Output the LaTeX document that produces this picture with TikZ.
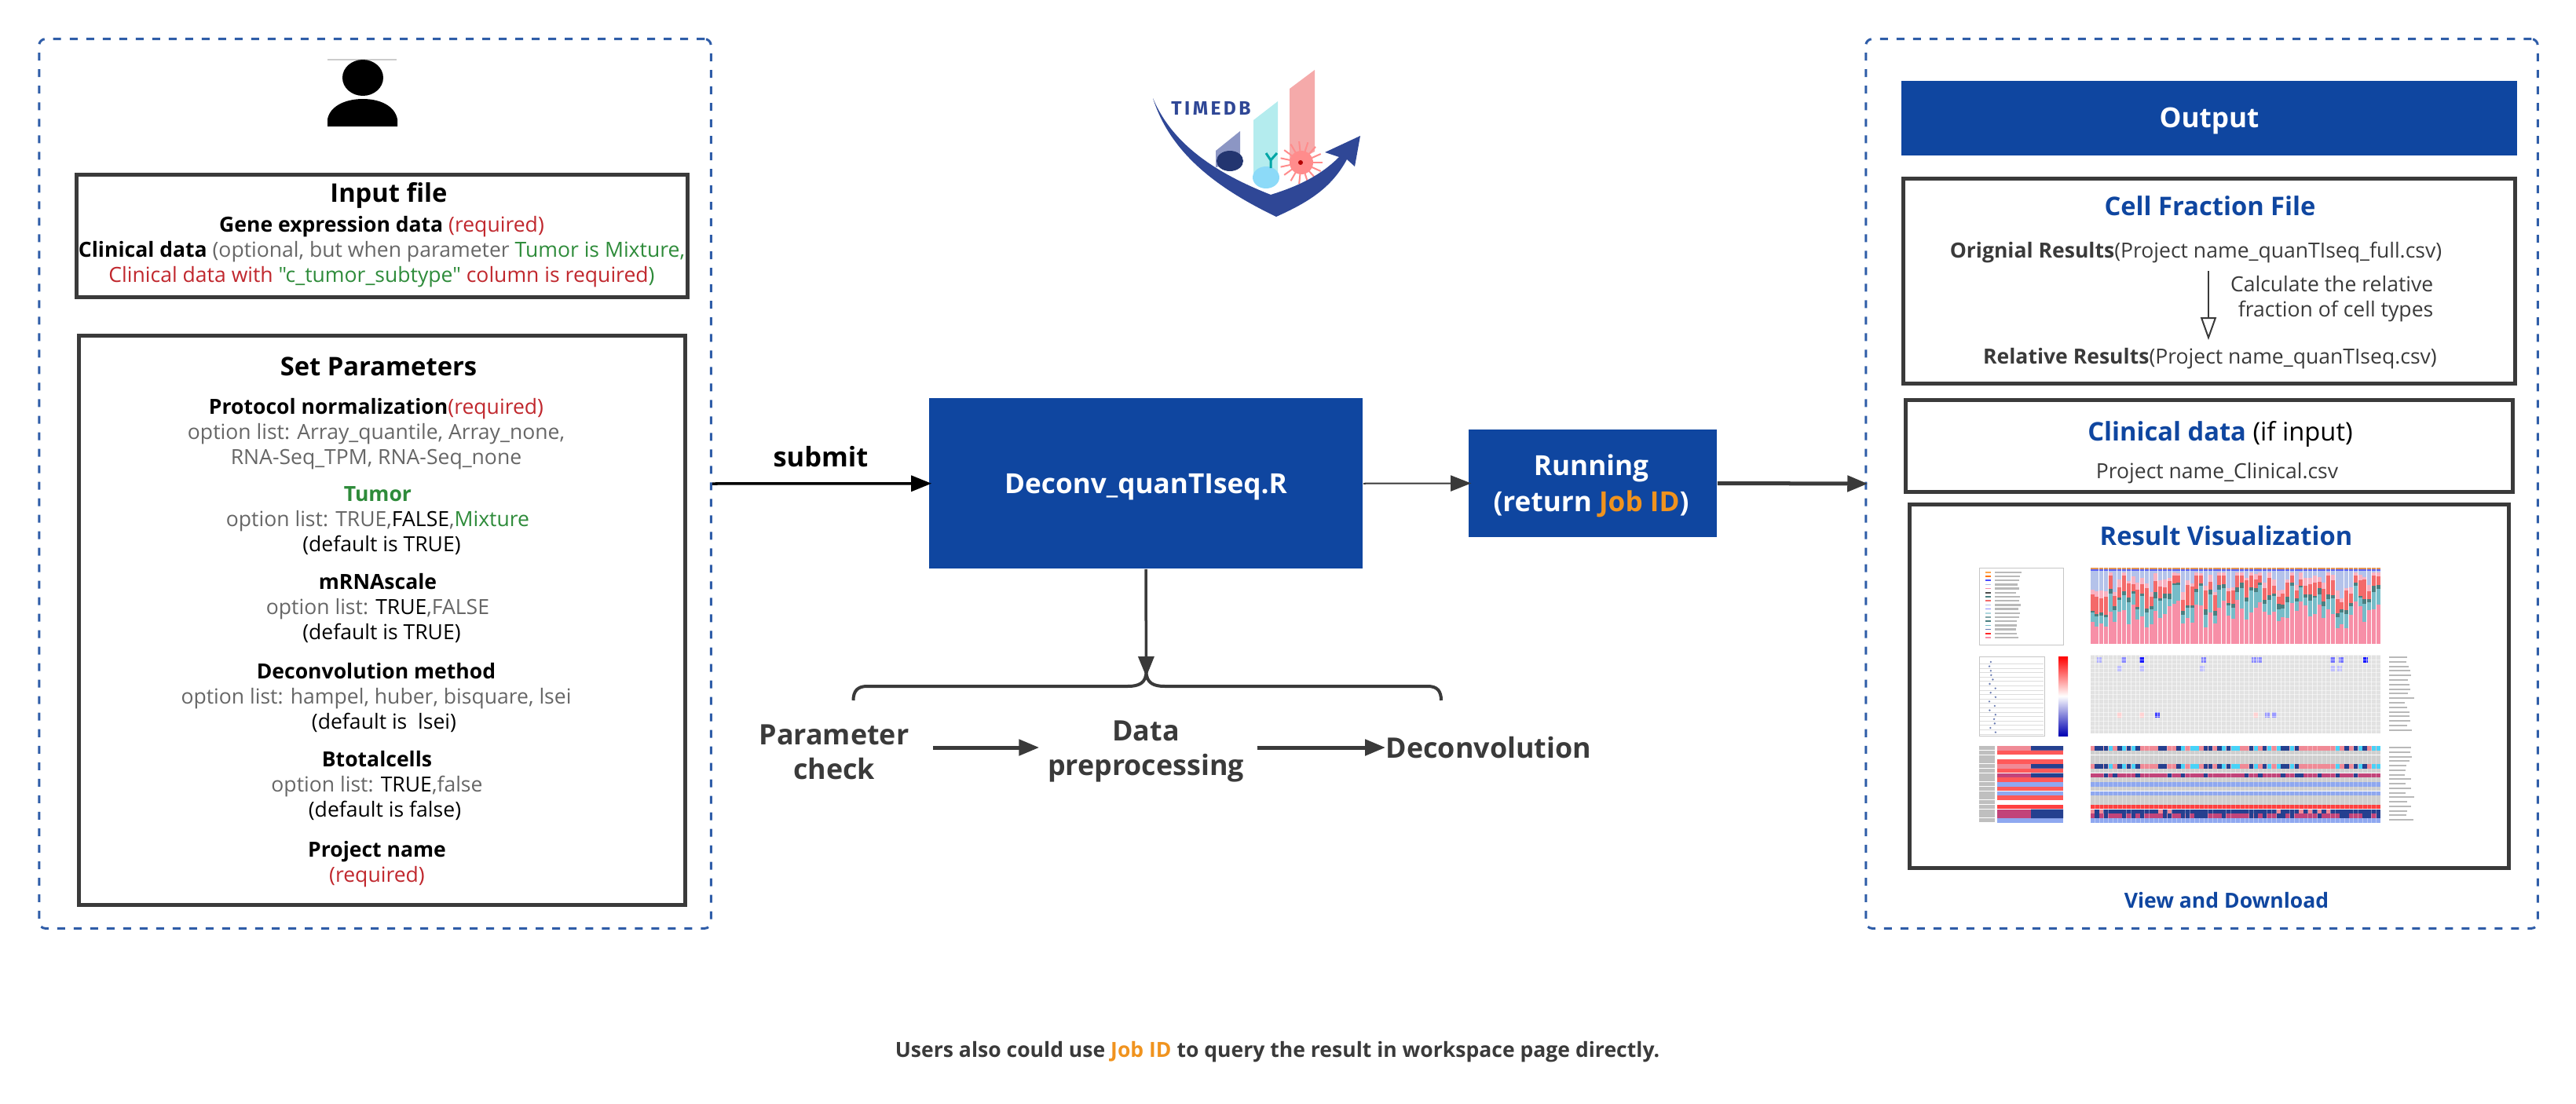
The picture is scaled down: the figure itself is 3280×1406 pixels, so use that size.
\documentclass[tikz,border=0pt]{standalone}
\usepackage{fontspec}
\setmainfont[Ligatures=TeXOff]{Open Sans}
\newfontfamily\logofont[LetterSpace=14]{Fira Sans}
\usetikzlibrary{arrows.meta}
\definecolor{mainblue}{HTML}{0F46A0}
\definecolor{framedash}{HTML}{2F5DA8}
\definecolor{boxdark}{HTML}{3A3A3A}
\definecolor{reqred}{HTML}{C0272D}
\definecolor{optgreen}{HTML}{2E8B3A}
\definecolor{optgray}{HTML}{666666}
\definecolor{jobamber}{HTML}{F0931E}
\definecolor{logoblue}{HTML}{2F4796}
\definecolor{logobar}{HTML}{8C96C4}
\definecolor{logocyan}{HTML}{B4ECEE}
\definecolor{logopink}{HTML}{F5AAAA}
\definecolor{barpink}{HTML}{F78FA7}
\definecolor{barteal}{HTML}{76BCC8}
\definecolor{bardark}{HTML}{4A7F80}
\definecolor{barsalmon}{HTML}{F46A6A}
\definecolor{barlight}{HTML}{B4C2EA}
\definecolor{hmblue}{HTML}{8FA8F0}
\definecolor{hmnavy}{HTML}{25408F}
\definecolor{hmrose}{HTML}{F08A96}
\definecolor{hmmag}{HTML}{C2447A}
\definecolor{hmgray}{HTML}{CFCFCF}
\newcommand{\req}[1]{\textcolor{reqred}{#1}}
\newcommand{\opt}[1]{\textcolor{optgray}{#1}}
\newcommand{\grn}[1]{\textcolor{optgreen}{#1}}
\tikzset{
  framebox/.style={draw=framedash, line width=0.03cm, dashed, dash pattern=on 0.1cm off 0.11cm, rounded corners=0.08cm, inner sep=0},
  panelbox/.style={draw=boxdark, line width=0.05cm, inner sep=0},
  bluebox/.style={fill=mainblue, inner sep=0},
  bluetxt/.style={text=white, inner sep=0, align=center, font=\fontsize{10}{13.2}\selectfont\bfseries},
  titletxt/.style={inner sep=0, font=\fontsize{9.3}{11}\selectfont\bfseries},
  bodytxt/.style={inner sep=0, align=center, font=\fontsize{7.55}{9.1}\selectfont},
  steptxt/.style={inner sep=0, align=center, text=boxdark, font=\fontsize{10.2}{12.7}\selectfont\bfseries},
  flowarrow/.style={draw=boxdark, line width=0.035cm, shorten >=-0.04cm, -{Triangle[length=0.26cm,width=0.2cm]}},
  hintarrow/.style={draw=boxdark, line width=0.02cm, -{Triangle[open,length=0.29cm,width=0.2cm]}},
}
\begin{document}
\begin{tikzpicture}[x=0.01cm, y=-0.01cm, every node/.style={align=center}]
    \useasboundingbox (0,0) rectangle (3280,1406);

    % left frame
    \node[framebox, minimum width=8.55cm, minimum height=11.32cm] (leftframe) at (477.5,616) {};
    \draw[gray!40, line width=0.02cm] (417,76) -- (505,76);
    \fill (462,99) ellipse (26 and 23);
    \fill (417,161) -- (417,152) .. controls (420,135) and (440,126) .. (462,126) .. controls (484,126) and (503,135) .. (506,152) -- (506,161) -- cycle;

    % input file
    \node[panelbox, minimum width=7.78cm, minimum height=1.56cm] (inputbox) at (486.5,300.5) {};
    \node[titletxt] (inputtitle) at (495,249) {Input file};
    \node[bodytxt] (inputlist) at (486,321) {\textbf{Gene expression data} \req{(required)}\\
      \textbf{Clinical data} \opt{(optional, but when parameter} \grn{Tumor is Mixture,}\\
      \req{Clinical data with} \grn{"c\_tumor\_subtype"} \req{column is required}\grn{)}};

    % set parameters
    \node[panelbox, minimum width=7.72cm, minimum height=7.25cm] (parambox) at (486.5,790) {};
    \node[titletxt] (paramtitle) at (482,467) {Set Parameters};
    \node[bodytxt] (protocol) at (479,552.5) {\textbf{Protocol normalization}\req{(required)}\\
      \opt{option list: Array\_quantile, Array\_none,}\\
      \opt{RNA-Seq\_TPM, RNA-Seq\_none}};
    \node[bodytxt] (tumor) at (481,663) {\grn{\textbf{Tumor}}\\
      \opt{option list: TRUE,}FALSE\opt{,}\grn{Mixture}\\
      \hspace*{0.1cm}(default is TRUE)};
    \node[bodytxt] (mrna) at (481,775) {\textbf{mRNAscale}\\
      \opt{option list:} TRUE\opt{,FALSE}\\
      \hspace*{0.1cm}(default is TRUE)};
    \node[bodytxt] (method) at (479,888.5) {\textbf{Deconvolution method}\\
      \opt{option list: hampel, huber, bisquare, lsei}\\
      \hspace*{0.2cm}(default is \ lsei)};
    \node[bodytxt] (btotal) at (480,1001) {\textbf{Btotalcells}\\
      \opt{option list:} TRUE\opt{,false}\\
      \hspace*{0.2cm}(default is false)};
    \node[bodytxt] (project) at (480,1101) {\textbf{Project name}\\ \req{(required)}};

    % logo
    \fill[logobar] (1548,192) -- (1579,167) -- (1579,207) -- (1548,213) -- cycle;
    \fill[logocyan] (1596,153) -- (1627,129) -- (1627,220) -- (1596,223) -- cycle;
    \fill[logopink] (1642,113) -- (1674,89) -- (1674,193) -- (1642,210) -- cycle;
    \fill[logoblue!75!black] (1566,205) ellipse (17 and 13);
    \fill[cyan!45!white] (1612,226) ellipse (17 and 14);
    \draw[teal!70!cyan, line width=0.03cm] (1618,214) -- (1618,204) -- (1612,195) (1618,204) -- (1626,195);
    \foreach \ang in {0,24,...,336}
        \draw[red!45!white, line width=0.02cm] (1657,207) -- ++(\ang:27);
    \fill[red!45!white] (1657,207) circle (15);
    \fill[red!70!black] (1656,207) circle (3);
    \fill[logoblue] (1468,125) .. controls (1490,195) and (1550,240) .. (1625,276)
        .. controls (1665,258) and (1695,240) .. (1715,203) -- (1725,212) -- (1732,173) -- (1687,194) -- (1705,200)
        .. controls (1680,225) and (1650,238) .. (1618,248) .. controls (1560,225) and (1495,190) .. (1468,125) -- cycle;
    \node[inner sep=0, text=logoblue, font=\logofont\fontsize{7}{8}\selectfont\bfseries] (logoname) at (1542,138) {TIMEDB};

    % middle flow
    \node[bluebox, minimum width=5.52cm, minimum height=2.165cm] (deconv) at (1459,615.75) {};
    \node[bluetxt] (deconvname) at (1459,620) {Deconv\_quanTIseq.R};
    \node[bluebox, minimum width=3.16cm, minimum height=1.37cm] (running) at (2028,615.5) {};
    \node[bluetxt] (runningname) at (2026,619) {Running\\ (return \textcolor{jobamber}{Job ID})};
    \node[inner sep=0, font=\fontsize{9.8}{12}\selectfont\bfseries] (submit) at (1045,582) {submit};
    \draw[flowarrow, draw=black] (leftframe.east) -- (deconv.west);
    \draw[flowarrow, line width=0.02cm] (deconv.east) -- (running.west);

    % brace and steps
    \coordinate (bracepeak) at (1459.5,862);
    \draw[flowarrow, shorten >=0cm] (deconv.south) -- (bracepeak);
    \draw[boxdark, line width=0.04cm] (1086.5,892) .. controls (1086.5,880) and (1092,874) .. (1104,874) -- (1436,874)
        .. controls (1450,874) and (1459.5,870) .. (1459.5,855) .. controls (1459.5,870) and (1469,874) .. (1483,874)
        -- (1818,874) .. controls (1830,874) and (1835,880) .. (1835,892);
    \node[steptxt] (paramcheck) at (1062,958) {Parameter\\ check};
    \node[steptxt] (dataprep) at (1459,957) {Data\\ preprocessing};
    \node[steptxt] (deconvstep) at (1895.5,952) {Deconvolution};
    \draw[flowarrow, line width=0.05cm, shorten <=0.3cm, shorten >=0.1cm] (paramcheck.east |- deconvstep.west) -- (dataprep.west |- deconvstep.west);
    \draw[flowarrow, line width=0.05cm, shorten <=0.16cm, shorten >=0cm] (dataprep.east |- deconvstep.west) -- (deconvstep.west);

    % right frame
    \node[framebox, minimum width=8.55cm, minimum height=11.32cm] (rightframe) at (2803.5,616) {};
    \draw[flowarrow, line width=0.05cm] (running.east) -- (rightframe.west);
    \node[bluebox, minimum width=7.84cm, minimum height=0.95cm] (output) at (2813,150.5) {};
    \node[bluetxt] (outputname) at (2813,154) {Output};

    % cell fraction
    \node[panelbox, minimum width=7.78cm, minimum height=2.6cm] (fractionbox) at (2813,358) {};
    \node[titletxt, text=mainblue] (fractiontitle) at (2814,262.5) {Cell Fraction File};
    \node[bodytxt, text=boxdark] (original) at (2796,322) {\textbf{Orignial Results}(Project name\_quanTIseq\_full.csv)};
    \node[bodytxt, text=boxdark, align=right, anchor=east] (calc) at (3099,381) {Calculate the relative\\ fraction of cell types};
    \node[bodytxt, text=boxdark] (relative) at (2814,457) {\textbf{Relative Results}(Project name\_quanTIseq.csv)};
    \draw[hintarrow, shorten <=0.09cm, shorten >=0.1cm] (original.south -| 2812,0) -- (relative.north -| 2812,0);

    % clinical data
    \node[panelbox, minimum width=7.72cm, minimum height=1.16cm] (clinicalbox) at (2813,568) {};
    \node[titletxt, font=\fontsize{9.3}{11}\selectfont] (clinicaltitle) at (2827,553) {\textcolor{mainblue}{\textbf{Clinical data}} (if input)};
    \node[bodytxt, text=boxdark] (clinicalfile) at (2823,603) {Project name\_Clinical.csv};

    % result visualization
    \node[panelbox, minimum width=7.62cm, minimum height=4.62cm] (resultbox) at (2813,874) {};
    \node[titletxt, text=mainblue] (resulttitle) at (2834.5,682.5) {Result Visualization};
    \node[inner sep=0, text=mainblue, font=\fontsize{7.55}{9}\selectfont\bfseries] (download) at (2835,1147) {View and Download};

    % thumbnail: legend and stacked bars
    \pgfmathsetseed{11}
    \draw[gray!45, line width=0.01cm] (2520,723) rectangle (2627,821);
    \foreach \i/\c in {0/orange!70,1/orange!90!red,2/blue!70,3/barlight,4/barpink,5/black!70,6/bardark,7/barsalmon,8/barlight,9/blue!45,10/barteal!60,11/bardark!70,12/bardark,13/barteal,14/hmnavy!70,15/red!85,16/barpink}{
        \fill[\c] (2528,{728+5.2*\i}) rectangle (2535,{729.6+5.2*\i});
        \fill[gray!55] (2540,{727.6+5.2*\i}) rectangle ({2566+8*rnd},{730+5.2*\i});
    }
    \foreach \i in {0,...,63}{
        \pgfmathsetmacro\bx{2661.5+5.78*\i}
        \pgfmathsetmacro\ha{820-(20+36*rnd)}
        \pgfmathsetmacro\hb{max(\ha-(9+20*rnd),745)}
        \pgfmathsetmacro\hc{max(\hb-(2+6*rnd),742)}
        \pgfmathsetmacro\hd{max(\hc-(8+22*rnd),733)}
        \pgfmathsetmacro\he{max(\hd-(3+8*rnd),729)}
        \fill[orange!65!barlight] (\bx,723) rectangle (\bx+5,820);
        \fill[blue!50!barlight] (\bx,725) rectangle (\bx+5,820);
        \fill[barlight] (\bx,727) rectangle (\bx+5,820);
        \fill[barpink!70!white] (\bx,\he) rectangle (\bx+5,820);
        \fill[barsalmon] (\bx,\hd) rectangle (\bx+5,820);
        \fill[bardark] (\bx,\hc) rectangle (\bx+5,820);
        \fill[barteal] (\bx,\hb) rectangle (\bx+5,820);
        \fill[barpink] (\bx,\ha) rectangle (\bx+5,820);
    }

    % thumbnail: bubbles, colour bar and heatmap
    \draw[gray!45, line width=0.01cm] (2520,836) rectangle (2603,937);
    \foreach \i in {0,...,16}{
        \fill[hmnavy!70] ({2533+8*rnd},{843+5.6*\i}) circle (1.3);
        \fill[hmgray!70] (2521,{845+5.6*\i}) rectangle (2602,{845.3+5.6*\i});
    }
    \shade[top color=red, bottom color=blue!70!black, middle color=white] (2621,836) rectangle (2633,937);
    \fill[hmgray!60] (2661.5,834) rectangle (3031,934);
    \foreach \i in {0,...,16}
        \fill[gray!55] (3042,{836+5.8*\i}) rectangle ({3062+12*rnd},{838+5.8*\i});
    \foreach \cx/\cy/\c in {2670/837/blue!30,2701/837/blue!45,2724/837/blue!90,2803/837/blue!50,2867/837/blue!45,2874/837/blue!45,2967/837/blue!55,2978/837/blue!55,3009/837/blue!90,2696/848/blue!25,2724/848/blue!25,2801/848/blue!25,2967/848/blue!25,2976/848/blue!25,2744/907/blue!75,2696/907/red!18,2724/907/red!18,2869/907/red!18,2884/907/blue!40,2893/907/blue!40}
        \fill[\c] (\cx,\cy) rectangle (\cx+6,\cy+7);
    \foreach \i in {0,...,63}
        \fill[white, opacity=0.6] ({2666.5+5.78*\i},834) rectangle ({2667.3+5.78*\i},934);
    \foreach \i in {0,...,17}
        \fill[white, opacity=0.5] (2661.5,{834+5.6*\i}) rectangle (3031,{834.6+5.6*\i});

    % thumbnail: annotation rows
    \foreach \i/\c in {0/hmrose,1/hmgray,2/hmgray,3/hmgray,4/hmrose,5/hmgray,6/hmmag,7/hmgray,8/hmblue,9/hmgray,10/hmblue,11/hmgray,12/hmgray,13/red!75,14/hmnavy,15/hmmag,16/hmblue}{
        \fill[gray!50] (2520,{950+5.75*\i}) rectangle (2540,{955+5.75*\i});
        \fill[\c] (2661.5,{950+5.75*\i}) rectangle (3031,{955.5+5.75*\i});
        \fill[gray!55] (3042,{951+5.75*\i}) rectangle ({3062+12*rnd},{953+5.75*\i});
    }
    \foreach \i/\c in {0/hmrose,1/red!65,2/white,3/red!65,4/hmrose,5/red!65,6/hmmag,7/red!65,8/hmblue,9/red!65,10/hmblue,11/red!65,12/white,13/red!75,14/hmmag,15/hmmag,16/hmblue}
        \fill[\c] (2543,{950+5.75*\i}) rectangle (2627,{955.5+5.75*\i});
    \fill[hmnavy] (2586,950) rectangle (2627,955.5) (2586,973) rectangle (2627,978.5) (2586,984.5) rectangle (2627,990) (2586,1030.5) rectangle (2627,1042);
    \foreach \i in {0,...,63}{
        \pgfmathsetmacro\bx{2661.5+5.78*\i}
        \pgfmathparse{rnd<0.3 ? "hmnavy" : (rnd<0.35 ? "hmblue!50!cyan" : "hmrose")}
        \edef\cellcol{\pgfmathresult}
        \fill[\cellcol] (\bx,950) rectangle (\bx+5.3,955.5);
        \fill[\cellcol] (\bx,973) rectangle (\bx+5.3,978.5);
        \pgfmathparse{rnd<0.2 ? "hmnavy" : "hmmag"}
        \edef\cellcol{\pgfmathresult}
        \fill[\cellcol] (\bx,984.5) rectangle (\bx+5.3,990);
        \pgfmathparse{rnd<0.15 ? "hmrose" : "hmnavy"}
        \edef\cellcol{\pgfmathresult}
        \fill[\cellcol] (\bx,1030.5) rectangle (\bx+5.3,1036);
        \pgfmathparse{rnd<0.3 ? "hmnavy" : "hmmag"}
        \edef\cellcol{\pgfmathresult}
        \fill[\cellcol] (\bx,1036) rectangle (\bx+5.3,1042);
        \fill[white, opacity=0.35] (\bx+5.3,950) rectangle (\bx+5.78,1048);
    }

    % footer
    \node[inner sep=0, text=boxdark, font=\fontsize{7.55}{9}\selectfont\bfseries] (footer) at (1626.5,1340) {Users also could use \textcolor{jobamber}{Job ID} to query the result in workspace page directly.};
\end{tikzpicture}
\end{document}
